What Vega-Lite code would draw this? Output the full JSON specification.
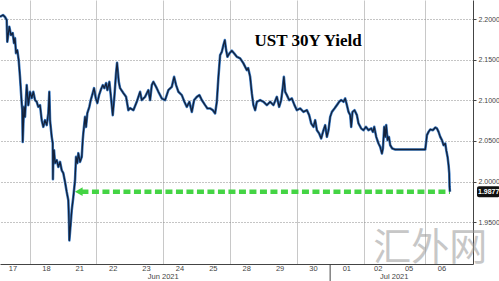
{
  "$schema": "https://vega.github.io/schema/vega-lite/v6.json",
  "width": 473,
  "height": 264,
  "autosize": {"type": "none"},
  "padding": {"left": 0, "top": 0, "right": 26, "bottom": 17},
  "background": "#ffffff",
  "config": {"view": {"stroke": null}, "font": "Liberation Sans"},
  "datasets": {
    "yield": [
      {"s":0.110,"v":2.2028},{"s":0.1996,"v":2.2049},{"s":0.2596,"v":2.2025},{"s":0.3106,"v":2.1988},{"s":0.3285,"v":2.1720},{"s":0.3885,"v":2.1905},{"s":0.4394,"v":2.1803},{"s":0.4904,"v":2.1828},{"s":0.5294,"v":2.1704},{"s":0.5594,"v":2.1766},
      {"s":0.5893,"v":2.1581},{"s":0.6283,"v":2.1618},{"s":0.6703,"v":2.1495},{"s":0.7092,"v":2.1289},{"s":0.7602,"v":2.0966},{"s":0.7782,"v":2.0879},{"s":0.7902,"v":2.0489},{"s":0.8291,"v":2.0920},{"s":0.8591,"v":2.0797},{"s":0.9101,"v":2.1187},
      {"s":0.9580,"v":2.0941},{"s":1.0090,"v":2.1105},{"s":1.0600,"v":2.1027},{"s":1.1079,"v":2.1105},{"s":1.1589,"v":2.1003},{"s":1.2098,"v":2.0982},{"s":1.2578,"v":2.0920},{"s":1.3087,"v":2.0941},{"s":1.3597,"v":2.0756},{"s":1.4077,"v":2.0674},
      {"s":1.4586,"v":2.0756},{"s":1.5096,"v":2.0695},{"s":1.5576,"v":2.0842},{"s":1.5875,"v":2.1105},{"s":1.6085,"v":2.0756},{"s":1.6595,"v":2.0551},{"s":1.6895,"v":2.0473},{"s":1.6955,"v":2.0030},{"s":1.7074,"v":2.0304},{"s":1.7284,"v":2.0387},
      {"s":1.7584,"v":2.0227},{"s":1.8093,"v":2.0264},{"s":1.8573,"v":2.0181},{"s":1.9083,"v":2.0243},{"s":1.9592,"v":2.0140},{"s":2.0072,"v":2.0104},{"s":2.0582,"v":1.9996},{"s":2.1091,"v":1.9873},{"s":2.1571,"v":1.9771},{"s":2.1781,"v":1.9488},
      {"s":2.1871,"v":1.9278},{"s":2.2290,"v":1.9488},{"s":2.2590,"v":1.9648},{"s":2.3070,"v":1.9812},{"s":2.3579,"v":2.0017},{"s":2.3879,"v":2.0304},{"s":2.4269,"v":2.0227},{"s":2.4569,"v":2.0350},{"s":2.5078,"v":2.0243},{"s":2.5588,"v":2.0304},
      {"s":2.5888,"v":2.0510},{"s":2.6067,"v":2.0596},{"s":2.6577,"v":2.0797},{"s":2.6877,"v":2.0674},{"s":2.7266,"v":2.0842},{"s":2.7866,"v":2.0920},{"s":2.8286,"v":2.1003},{"s":2.8885,"v":2.1089},{"s":2.9275,"v":2.1150},{"s":2.9784,"v":2.1027},
      {"s":3.0264,"v":2.0966},{"s":3.0774,"v":2.1064},{"s":3.1283,"v":2.1126},{"s":3.1883,"v":2.1187},{"s":3.2362,"v":2.1150},{"s":3.2872,"v":2.1212},{"s":3.3262,"v":2.1126},{"s":3.3861,"v":2.1228},{"s":3.4371,"v":2.1027},{"s":3.4880,"v":2.0818},
      {"s":3.5360,"v":2.1043},{"s":3.5869,"v":2.1335},{"s":3.6169,"v":2.1462},{"s":3.6679,"v":2.1228},{"s":3.7068,"v":2.1150},{"s":3.8058,"v":2.1089},{"s":3.8867,"v":2.1043},{"s":3.9557,"v":2.0879},{"s":4.0066,"v":2.0904},{"s":4.1055,"v":2.0879},
      {"s":4.2074,"v":2.0982},{"s":4.3064,"v":2.1105},{"s":4.3573,"v":2.1003},{"s":4.4563,"v":2.1043},{"s":4.5552,"v":2.1126},{"s":4.6061,"v":2.1003},{"s":4.6571,"v":2.1187},{"s":4.7051,"v":2.1228},{"s":4.7860,"v":2.1166},{"s":4.8550,"v":2.1105},
      {"s":4.9569,"v":2.1023},{"s":5.0558,"v":2.1003},{"s":5.1547,"v":2.1126},{"s":5.2566,"v":2.1166},{"s":5.3256,"v":2.1289},{"s":5.3855,"v":2.1187},{"s":5.4545,"v":2.1105},{"s":5.5564,"v":2.1064},{"s":5.6344,"v":2.0982},{"s":5.7063,"v":2.0920},
      {"s":5.7842,"v":2.0982},{"s":5.8562,"v":2.0858},{"s":5.9251,"v":2.1003},{"s":6.0061,"v":2.1043},{"s":6.0840,"v":2.1064},{"s":6.1560,"v":2.1003},{"s":6.2549,"v":2.0941},{"s":6.3238,"v":2.0900},{"s":6.4048,"v":2.0900},{"s":6.4857,"v":2.0879},
      {"s":6.5547,"v":2.0839},{"s":6.6057,"v":2.0982},{"s":6.6536,"v":2.1289},{"s":6.7045,"v":2.1557},{"s":6.7555,"v":2.1597},{"s":6.8034,"v":2.1680},{"s":6.8454,"v":2.1741},{"s":6.8844,"v":2.1618},{"s":6.9233,"v":2.1536},{"s":6.9833,"v":2.1578},
      {"s":7.0552,"v":2.1610},{"s":7.1242,"v":2.1578},{"s":7.2050,"v":2.1536},{"s":7.3040,"v":2.1516},{"s":7.4029,"v":2.1455},{"s":7.5048,"v":2.1372},{"s":7.5438,"v":2.1397},{"s":7.6037,"v":2.1289},{"s":7.6547,"v":2.1085},{"s":7.7027,"v":2.0941},
      {"s":7.7536,"v":2.0879},{"s":7.8046,"v":2.0982},{"s":7.9035,"v":2.1003},{"s":8.0025,"v":2.0982},{"s":8.1044,"v":2.0941},{"s":8.2033,"v":2.0982},{"s":8.3022,"v":2.0941},{"s":8.4041,"v":2.1043},{"s":8.4730,"v":2.0920},{"s":8.5330,"v":2.1003},
      {"s":8.5840,"v":2.1166},{"s":8.6140,"v":2.1289},{"s":8.6529,"v":2.1105},{"s":8.7039,"v":2.1064},{"s":8.7728,"v":2.1003},{"s":8.8537,"v":2.1023},{"s":8.9317,"v":2.0941},{"s":9.0036,"v":2.0879},{"s":9.1025,"v":2.0900},{"s":9.2015,"v":2.0858},
      {"s":9.3034,"v":2.0879},{"s":9.3723,"v":2.0818},{"s":9.4323,"v":2.0716},{"s":9.5012,"v":2.0674},{"s":9.5522,"v":2.0756},{"s":9.6032,"v":2.0633},{"s":9.6721,"v":2.0592},{"s":9.7321,"v":2.0531},{"s":9.8010,"v":2.0633},{"s":9.8520,"v":2.0695},
      {"s":9.9029,"v":2.0551},{"s":9.9509,"v":2.0633},{"s":10.0019,"v":2.0797},{"s":10.0528,"v":2.0858},{"s":10.1308,"v":2.0900},{"s":10.2027,"v":2.0941},{"s":10.2716,"v":2.0982},{"s":10.3316,"v":2.1003},{"s":10.4005,"v":2.0982},{"s":10.4515,"v":2.1023},
      {"s":10.5024,"v":2.0941},{"s":10.5504,"v":2.0858},{"s":10.6014,"v":2.0818},{"s":10.6314,"v":2.0674},{"s":10.6703,"v":2.0858},{"s":10.7303,"v":2.0879},{"s":10.8022,"v":2.0818},{"s":10.8502,"v":2.0716},{"s":10.9311,"v":2.0654},{"s":11.0000,"v":2.0633},
      {"s":11.0719,"v":2.0674},{"s":11.1499,"v":2.0633},{"s":11.2308,"v":2.0654},{"s":11.2818,"v":2.0612},{"s":11.3207,"v":2.0674},{"s":11.3807,"v":2.0551},{"s":11.4496,"v":2.0469},{"s":11.5006,"v":2.0427},{"s":11.5516,"v":2.0346},{"s":11.5815,"v":2.0408},
      {"s":11.6205,"v":2.0674},{"s":11.6505,"v":2.0551},{"s":11.6805,"v":2.0695},{"s":11.7194,"v":2.0510},{"s":11.7614,"v":2.0551},{"s":11.8004,"v":2.0448},{"s":11.8603,"v":2.0408},{"s":11.9503,"v":2.0395},{"s":12.8496,"v":2.0395},{"s":12.9006,"v":2.0572},
      {"s":12.9485,"v":2.0612},{"s":12.9995,"v":2.0642},{"s":13.0805,"v":2.0633},{"s":13.1494,"v":2.0666},{"s":13.2004,"v":2.0654},{"s":13.2484,"v":2.0612},{"s":13.2993,"v":2.0551},{"s":13.3503,"v":2.0510},{"s":13.3983,"v":2.0448},{"s":13.4492,"v":2.0469},
      {"s":13.4792,"v":2.0387},{"s":13.5182,"v":2.0304},{"s":13.5481,"v":2.0202},{"s":13.5691,"v":2.0100},{"s":13.5781,"v":1.9935},{"s":13.5901,"v":1.9877}
    ],
    "days": [
      {"s":0.5,"label":"17"},{"s":1.5,"label":"18"},{"s":2.5,"label":"21"},{"s":3.5,"label":"22"},{"s":4.5,"label":"23"},{"s":5.5,"label":"24"},{"s":6.5,"label":"25"},
      {"s":7.5,"label":"28"},{"s":8.5,"label":"29"},{"s":9.5,"label":"30"},{"s":10.5,"label":"01"},{"s":11.44,"label":"02"},{"s":12.365,"label":"05"},{"s":13.35,"label":"06"}
    ],
    "months": [
      {"s":5.0,"label":"Jun 2021"},{"s":11.92,"label":"Jul 2021"}
    ],
    "sep": [
      {"s":10}
    ],
    "arrow": [
      {"s":2.55,"v":1.9877},{"s":13.59,"v":1.9877}
    ],
    "head": [
      {"s":2.47,"v":1.9877}
    ],
    "last": [
      {"v":1.9877,"label":"1.9877"}
    ]
  },
  "layer": [
    {
      "data": {"name": "days"},
      "mark": {"type": "text", "fontSize": 7.5, "color": "#444", "baseline": "top", "dy": 1, "clip": false},
      "encoding": {
        "x": {"field": "s", "type": "quantitative", "scale": {"domain": [0.11, 14.28], "nice": false, "zero": false},
          "axis": {"orient": "bottom", "title": null, "ticks": false, "labels": false, "domainColor": "#444",
            "values": [1, 2, 3, 4, 5, 6, 7, 8, 9, 10, 11, 11.88, 12.85],
            "grid": true, "gridColor": "#c8c8c8", "gridWidth": 1, "gridOpacity": 1}},
        "y": {"datum": 1.8987, "type": "quantitative"},
        "text": {"field": "label"}
      }
    },
    {
      "data": {"name": "sep"},
      "mark": {"type": "rule", "color": "#444", "strokeWidth": 1, "clip": false},
      "encoding": {
        "x": {"field": "s", "type": "quantitative"},
        "y": {"datum": 1.8987, "type": "quantitative"},
        "y2": {"datum": 1.8777}
      }
    },
    {
      "data": {"name": "months"},
      "mark": {"type": "text", "fontSize": 7.5, "color": "#444", "baseline": "bottom", "dy": 17, "clip": false},
      "encoding": {
        "x": {"field": "s", "type": "quantitative"},
        "y": {"datum": 1.8987, "type": "quantitative"},
        "text": {"field": "label"}
      }
    },
    {
      "data": {"name": "arrow"},
      "mark": {"type": "line", "color": "#44d444", "strokeWidth": 4.5, "strokeDash": [7, 3.5], "strokeCap": "butt"},
      "encoding": {
        "x": {"field": "s", "type": "quantitative"},
        "y": {"field": "v", "type": "quantitative"}
      }
    },
    {
      "data": {"name": "head"},
      "mark": {"type": "point", "shape": "triangle-left", "filled": true, "color": "#44d444", "size": 80, "opacity": 1},
      "encoding": {
        "x": {"field": "s", "type": "quantitative"},
        "y": {"field": "v", "type": "quantitative"}
      }
    },
    {
      "data": {"name": "yield"},
      "mark": {"type": "line", "color": "#3d7cc4", "strokeWidth": 2.6, "strokeJoin": "round"},
      "encoding": {
        "x": {"field": "s", "type": "quantitative"},
        "y": {"field": "v", "type": "quantitative", "scale": {"domain": [1.8987, 2.2234], "nice": false, "zero": false},
          "axis": {"orient": "right", "title": null, "values": [1.95, 2.0, 2.05, 2.1, 2.15, 2.2], "format": ".4f",
            "labelFontSize": 7, "labelColor": "#444", "tickSize": 3, "tickColor": "#444", "domainColor": "#444", "labelPadding": 2,
            "grid": true, "gridColor": "#8a8a8a", "gridDash": [1, 2]}}
      }
    },
    {
      "data": {"name": "yield"},
      "mark": {"type": "line", "color": "#13213a", "strokeWidth": 1.3, "strokeJoin": "round"},
      "encoding": {
        "x": {"field": "s", "type": "quantitative"},
        "y": {"field": "v", "type": "quantitative"}
      }
    },
    {
      "data": {"values": [{"t": "UST 30Y Yield"}]},
      "mark": {"type": "text", "font": "Liberation Serif", "fontWeight": "bold", "fontSize": 17, "color": "#000", "align": "center", "baseline": "middle"},
      "encoding": {
        "x": {"datum": 9.34, "type": "quantitative"},
        "y": {"datum": 2.1729, "type": "quantitative"},
        "text": {"field": "t"}
      }
    },
    {
      "data": {"values": [{"t": "汇外网"}]},
      "mark": {"type": "text", "font": "Noto Sans CJK SC", "fontSize": 38, "letterSpacing": 3, "color": "#9a9a9a", "opacity": 0.55, "align": "center", "baseline": "middle", "clip": false},
      "encoding": {
        "x": {"datum": 13.0, "type": "quantitative"},
        "y": {"datum": 1.9168, "type": "quantitative"},
        "text": {"field": "t"}
      }
    },
    {
      "data": {"name": "last"},
      "mark": {"type": "rect", "color": "#111", "cornerRadius": 2, "xOffset": 4, "x2Offset": 27, "yOffset": -5.5, "y2Offset": 5.5, "clip": false},
      "encoding": {
        "x": {"datum": 14.28, "type": "quantitative"},
        "x2": {"datum": 14.28},
        "y": {"field": "v", "type": "quantitative"},
        "y2": {"field": "v"}
      }
    },
    {
      "data": {"name": "last"},
      "mark": {"type": "text", "color": "#fff", "fontSize": 7, "fontWeight": "bold", "align": "left", "baseline": "middle", "dx": 5, "clip": false},
      "encoding": {
        "x": {"datum": 14.28, "type": "quantitative"},
        "y": {"field": "v", "type": "quantitative"},
        "text": {"field": "label"}
      }
    }
  ]
}
